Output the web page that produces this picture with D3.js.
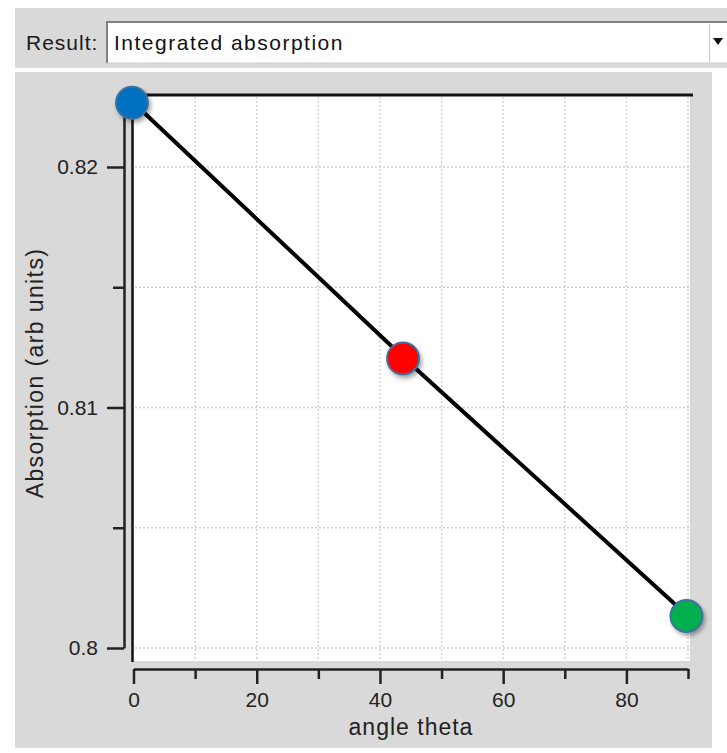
<!DOCTYPE html>
<html>
<head>
<meta charset="utf-8">
<script src="https://cdn.jsdelivr.net/npm/d3@7"></script>
<style>
  body { margin: 0; background: #ffffff; }
  svg { display: block; font-family: "Liberation Sans", Arial, sans-serif; }
</style>
</head>
<body>
<svg id="chart" width="727" height="753"></svg>
<script>
// data
var thetas = [0, 44, 90];
var absorption = [0.82267, 0.81204, 0.80133];
var pointColors = ["#0070c0", "#ff0000", "#00b050"];

var xTickValues = [0, 10, 20, 30, 40, 50, 60, 70, 80, 90];
var xTickLabels = [0, 20, 40, 60, 80];
var yTickValues = [0.8, 0.805, 0.81, 0.815, 0.82];
var yTickLabels = [0.8, 0.81, 0.82];

var resultOption = "Integrated absorption";

var svg = d3.select("#chart");

// top toolbar strip
svg.append("rect").attr("x", 15).attr("y", 8).attr("width", 712).attr("height", 60).attr("fill", "#d9d9d9");
svg.append("text").attr("x", 26).attr("y", 50).style("font-size", "21px").style("letter-spacing", "1px")
    .attr("fill", "#1a1a1a").text("Result:");

// combo box
svg.append("rect").attr("x", 106).attr("y", 21).attr("width", 621).attr("height", 42).attr("fill", "#ffffff");
svg.append("path").attr("d", "M107,63 V22 H727").attr("fill", "none").attr("stroke", "#7f7f7f").attr("stroke-width", 2);
svg.append("line").attr("x1", 107).attr("x2", 727).attr("y1", 63).attr("y2", 63).attr("stroke", "#cfcfcf").attr("stroke-width", 1);
svg.append("line").attr("x1", 709.5).attr("x2", 709.5).attr("y1", 24).attr("y2", 62).attr("stroke", "#c8c8c8");
svg.append("path").attr("d", "M713,38 L723,38 L718,45 Z").attr("fill", "#111");
svg.append("text").attr("x", 114).attr("y", 50).style("font-size", "21px").style("letter-spacing", "1.5px")
    .attr("fill", "#111").text(resultOption);

// plot panel
svg.append("rect").attr("x", 15).attr("y", 72).attr("width", 697).attr("height", 676).attr("fill", "#d9d9d9");

var x = d3.scaleLinear().domain([0, 90]).range([133.5, 688]);
var y = d3.scaleLinear().domain([0.8, 0.823]).range([648, 94.85]);

// white plotting area
svg.append("rect").attr("x", 132).attr("y", 95).attr("width", 558).attr("height", 566).attr("fill", "#ffffff");

// dotted grid
var grid = svg.append("g").attr("stroke", "#d0d0d0").attr("stroke-width", 1.3).attr("stroke-dasharray", "2,2");
grid.selectAll(".gx").data(xTickValues.slice(1)).enter().append("line")
    .attr("x1", d => x(d)).attr("x2", d => x(d)).attr("y1", 97).attr("y2", 660);
grid.selectAll(".gy").data(yTickValues).enter().append("line")
    .attr("x1", 135).attr("x2", 690).attr("y1", d => y(d)).attr("y2", d => y(d));

// frame: top border and inner left border
svg.append("line").attr("x1", 131).attr("x2", 693).attr("y1", 95).attr("y2", 95).attr("stroke", "#111").attr("stroke-width", 3);
svg.append("line").attr("x1", 132.5).attr("x2", 132.5).attr("y1", 94).attr("y2", 662).attr("stroke", "#111").attr("stroke-width", 2.5);

// y axis
var yAxis = d3.axisLeft(y).tickValues(yTickValues).tickSizeOuter(0)
    .tickFormat(d => yTickLabels.indexOf(d) >= 0 ? String(+d.toFixed(2)) : "");
var gy = svg.append("g").attr("transform", "translate(124,0)").call(yAxis);
gy.select(".domain").attr("stroke", "#222").attr("stroke-width", 2.5);
gy.selectAll(".tick line").attr("stroke", "#222").attr("stroke-width", 2.5)
    .attr("x2", d => yTickLabels.indexOf(d) >= 0 ? -17 : -11);
gy.selectAll(".tick text").attr("x", -26).attr("fill", "#222").style("font-size", "21px").style("font-family", "Liberation Sans, Arial, sans-serif");

// x axis
var xAxis = d3.axisBottom(x).tickValues(xTickValues).tickSizeOuter(0)
    .tickFormat(d => xTickLabels.indexOf(d) >= 0 ? d : "");
var gx = svg.append("g").attr("transform", "translate(0,669)").call(xAxis);
gx.select(".domain").attr("stroke", "#222").attr("stroke-width", 2.5);
gx.selectAll(".tick line").attr("stroke", "#222").attr("stroke-width", 2.5)
    .attr("y2", d => xTickLabels.indexOf(d) >= 0 ? 15 : 10);
gx.selectAll(".tick text").attr("y", 23).attr("fill", "#222").style("font-size", "21px").style("font-family", "Liberation Sans, Arial, sans-serif");

// axis titles
svg.append("text").attr("x", 411).attr("y", 735).attr("text-anchor", "middle")
    .style("font-size", "23px").style("letter-spacing", "1px").attr("fill", "#222").text("angle theta");
svg.append("text").attr("transform", "translate(43,373) rotate(-90)").attr("text-anchor", "middle")
    .style("font-size", "23px").style("letter-spacing", "1.4px").attr("fill", "#222").text("Absorption (arb units)");

// data line
var pts = thetas.map((t, i) => [t, absorption[i]]);
svg.append("path").datum(pts)
    .attr("d", d3.line().x(d => x(d[0])).y(d => y(d[1])))
    .attr("fill", "none").attr("stroke", "#000").attr("stroke-width", 4);

// markers with shadow
var defs = svg.append("defs");
var f = defs.append("filter").attr("id", "shadow").attr("x", "-50%").attr("y", "-50%").attr("width", "200%").attr("height", "200%");
f.append("feDropShadow").attr("dx", 2).attr("dy", 3).attr("stdDeviation", 2).attr("flood-color", "#000").attr("flood-opacity", 0.35);

svg.selectAll(".pt").data(pts).enter().append("circle")
    .attr("cx", d => x(d[0]) - 1.5)
    .attr("cy", d => y(d[1]))
    .attr("r", 16)
    .attr("fill", (d, i) => pointColors[i])
    .attr("stroke", "#41719c").attr("stroke-width", 2)
    .attr("filter", "url(#shadow)");
</script>
</body>
</html>
